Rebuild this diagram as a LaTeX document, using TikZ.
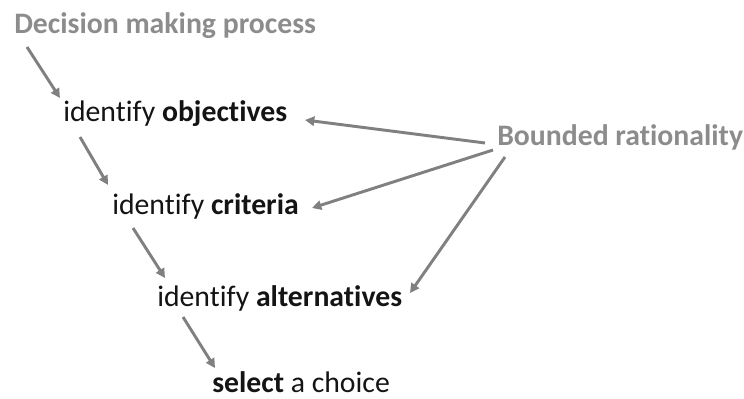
\documentclass[tikz,border=0pt]{standalone}
\usepackage{fontspec}
\setmainfont{Carlito}[RawFeature={-liga}]
\usepackage{xcolor}
\usetikzlibrary{arrows.meta}
\definecolor{labelgray}{RGB}{140,140,140}
\definecolor{linegray}{RGB}{128,128,128}
\definecolor{textblack}{RGB}{20,20,20}

\begin{document}
\begin{tikzpicture}[
        x=0.75pt, y=-0.75pt,
        step box/.style={inner sep=0pt, anchor=base west, text=textblack, font=\fontsize{22.3}{26}\selectfont},
        head/.style={inner sep=0pt, anchor=base west, text=labelgray, font=\fontsize{22.3}{26}\selectfont\bfseries},
        arrow/.style={-{Triangle[length=7pt,width=7pt]}, line width=2.2pt, draw=linegray}
    ]
        \useasboundingbox (0,0) rectangle (744,399);

        % Headings
        \node[head] (process) at (14,34) {Decision making process};
        \node[head] (bounded) at (497,146) {Bounded rationality};

        % Steps
        \node[step box] (objectives) at (63,122) {identify \textbf{objectives}};
        \node[step box] (criteria) at (112,215) {identify \textbf{criteria}};
        \node[step box] (alternatives) at (157,307) {identify \textbf{alternatives}};
        \node[step box] (choice) at (212,393) {\textbf{select} a choice};

        % Process arrows
        \draw[arrow] ([shift={(13,13)}]process.base west) -- ([shift={(-3,-24)}]objectives.base west);
        \draw[arrow] ([shift={(17,15)}]objectives.base west) -- ([shift={(-4,-30)}]criteria.base west);
        \draw[arrow] ([shift={(21,13)}]criteria.base west) -- ([shift={(8,-29)}]alternatives.base west);
        \draw[arrow] ([shift={(26,10)}]alternatives.base west) -- ([shift={(3,-25)}]choice.base west);

        % Bounded rationality arrows
        \draw[arrow] ([shift={(-12,-3)}]bounded.base west) -- ([shift={(242,-2)}]objectives.base west);
        \draw[arrow] ([shift={(-4,4)}]bounded.base west) -- ([shift={(200,-7)}]criteria.base west);
        \draw[arrow] ([shift={(8,11)}]bounded.base west) -- ([shift={(253,-14)}]alternatives.base west);
    \end{tikzpicture}
\end{document}
